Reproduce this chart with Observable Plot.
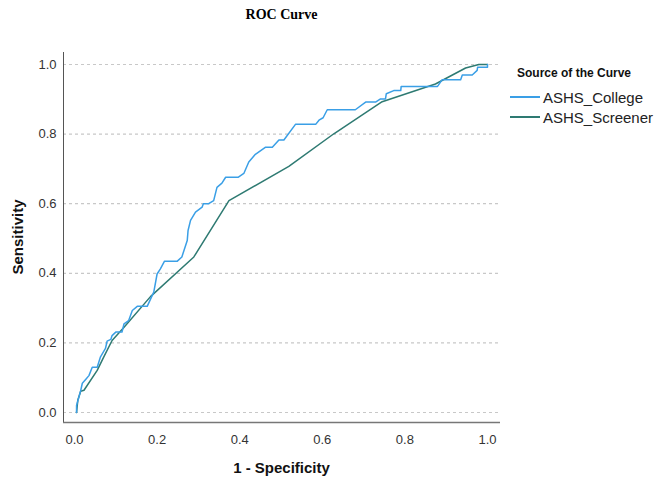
<!DOCTYPE html>
<html>
<head>
<meta charset="utf-8">
<script src="https://cdn.jsdelivr.net/npm/d3@7"></script>
<script src="https://cdn.jsdelivr.net/npm/@observablehq/plot@0.6"></script>
<style>
  html, body { margin: 0; padding: 0; background: #fff; }
  #wrap { position: relative; width: 657px; height: 480px; font-family: "Liberation Sans", Arial, sans-serif; }
  #chart { position: absolute; left: 0; top: 0; }
  .title { position: absolute; left: 63px; width: 437px; top: 7px; text-align: center; font-family: "Liberation Serif", "Times New Roman", serif; font-weight: bold; font-size: 14px; color: #000; }
  .xlab { position: absolute; left: 63px; width: 437px; top: 459px; text-align: center; font-weight: bold; font-size: 15px; color: #111; }
  .ylab { position: absolute; left: 17px; top: 237px; transform: translate(-50%, -50%) rotate(-90deg); font-weight: bold; font-size: 15px; color: #111; white-space: nowrap; }
  .legend { position: absolute; left: 510px; top: 66px; }
  .legend .lt { font-weight: bold; font-size: 12px; color: #111; margin-left: 7px; margin-bottom: 7px; }
  .legend .it { display: flex; align-items: center; height: 20px; font-size: 15px; color: #222; }
  .legend svg { margin-right: 3px; }
</style>
</head>
<body>
<div id="wrap">
  <div id="chart"></div>
  <div class="title">ROC Curve</div>
  <div class="xlab">1 - Specificity</div>
  <div class="ylab">Sensitivity</div>
  <div class="legend" id="legend"></div>
</div>
<script>
// Series names and colours
const seriesNames = ["ASHS_College", "ASHS_Screener"];
const seriesColors = ["#3a9fe6", "#2e7a72"];

// ASHS_College ROC points (1 - specificity, sensitivity)
const collegeX = [0.005,0.005,0.015,0.019,0.027,0.035,0.043,0.055,0.063,0.075,0.079,0.088,0.091,0.1,0.115,0.12,0.131,0.14,0.152,0.176,0.192,0.2,0.208,0.218,0.249,0.26,0.273,0.275,0.281,0.293,0.309,0.312,0.325,0.337,0.345,0.357,0.366,0.396,0.41,0.422,0.438,0.462,0.479,0.495,0.507,0.535,0.584,0.592,0.602,0.612,0.68,0.705,0.729,0.741,0.753,0.755,0.773,0.79,0.791,0.879,0.89,0.935,0.939,0.963,0.975,0.976,1,1];
const collegeY = [0,0.02,0.063,0.084,0.095,0.106,0.13,0.13,0.16,0.184,0.205,0.21,0.221,0.231,0.231,0.255,0.264,0.293,0.305,0.305,0.346,0.398,0.413,0.435,0.435,0.447,0.494,0.523,0.552,0.576,0.59,0.6,0.6,0.609,0.647,0.659,0.676,0.676,0.687,0.72,0.742,0.762,0.762,0.783,0.783,0.828,0.828,0.84,0.847,0.87,0.87,0.892,0.892,0.901,0.901,0.916,0.925,0.925,0.937,0.937,0.956,0.956,0.97,0.97,0.983,0.992,0.992,1];

// ASHS_Screener ROC points
const screenerX = [0.005,0.008,0.015,0.023,0.055,0.071,0.091,0.12,0.184,0.289,0.374,0.519,0.628,0.745,0.874,0.947,0.979,1];
const screenerY = [0,0.035,0.061,0.064,0.121,0.16,0.207,0.245,0.333,0.447,0.609,0.707,0.801,0.893,0.944,0.99,1,1];

// Tick values
const xTicks = [0, 0.2, 0.4, 0.6, 0.8, 1.0];
const yTicks = [0, 0.2, 0.4, 0.6, 0.8, 1.0];

const xDomain = [-0.0266, 1.0315];
const yDomain = [-0.0287, 1.0345];

const college = collegeX.map((x, i) => ({x, y: collegeY[i], s: seriesNames[0]}));
const screener = screenerX.map((x, i) => ({x, y: screenerY[i], s: seriesNames[1]}));

const plot = Plot.plot({
  width: 657,
  height: 480,
  marginLeft: 63,
  marginRight: 157,
  marginTop: 52,
  marginBottom: 58,
  style: {fontFamily: "'Liberation Sans', Arial, sans-serif", fontSize: "13px", color: "#333", background: "#fff"},
  x: {domain: xDomain},
  y: {domain: yDomain},
  marks: [
    Plot.ruleY(yTicks, {stroke: "#c8c8c8", strokeWidth: 1.2, strokeDasharray: "3,3"}),
    Plot.ruleX([xDomain[0]], {stroke: "#555", strokeWidth: 1}),
    Plot.ruleY([yDomain[0]], {stroke: "#777", strokeWidth: 1.5}),
    Plot.axisX({ticks: xTicks, tickSize: 0, tickPadding: 12, tickFormat: d3.format(".1f"), label: null}),
    Plot.axisY({ticks: yTicks, tickSize: 0, tickPadding: 7, tickFormat: d3.format(".1f"), label: null}),
    Plot.line(screener, {x: "x", y: "y", stroke: seriesColors[1], strokeWidth: 1.5}),
    Plot.line(college, {x: "x", y: "y", stroke: seriesColors[0], strokeWidth: 1.5})
  ]
});
document.getElementById("chart").appendChild(plot);

const leg = document.getElementById("legend");
const lt = document.createElement("div");
lt.className = "lt";
lt.textContent = "Source of the Curve";
leg.appendChild(lt);
seriesNames.forEach((n, i) => {
  const it = document.createElement("div");
  it.className = "it";
  it.innerHTML = `<svg width="30" height="6"><line x1="0" x2="30" y1="3" y2="3" stroke="${seriesColors[i]}" stroke-width="2"/></svg><span>${n}</span>`;
  leg.appendChild(it);
});
</script>
</body>
</html>
